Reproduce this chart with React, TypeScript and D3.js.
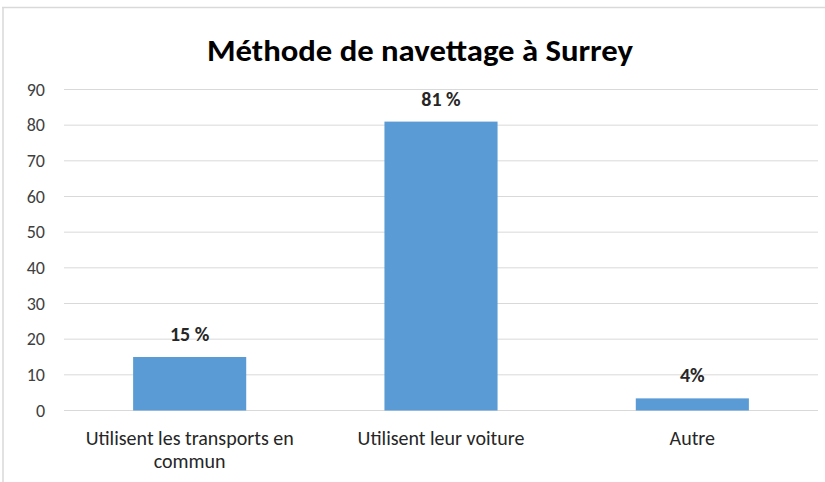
import React from "react";
import * as d3 from "d3";

const categories = ["Utilisent les transports en commun", "Utilisent leur voiture", "Autre"];
const categoryLines = [["Utilisent les transports en", "commun"], ["Utilisent leur voiture"], ["Autre"]];
const values = [15, 81, 3.4];
const valueLabels = ["15 %", "81 %", "4%"];
const yTicks = [0, 10, 20, 30, 40, 50, 60, 70, 80, 90];
const title = "Méthode de navettage à Surrey";

const W = 825;
const H = 482;
const plot = { left: 64, right: 818, top: 89.5, bottom: 410.5 };
const font = "Calibri, Carlito, 'Liberation Sans', Arial, sans-serif";

export default function App() {
  const x = d3.scaleBand<string>().domain(categories).range([plot.left, plot.right]).paddingInner(0.55).paddingOuter(0.275);
  const y = d3.scaleLinear().domain([0, 90]).range([plot.bottom, plot.top]);

  return (
    <svg width={W} height={H} style={{ position: "absolute", left: 0, top: 0, background: "#fff" }}>
      <rect x={0} y={0} width={W} height={H} fill="#fff" />
      <line x1={2} y1={7.5} x2={W} y2={7.5} stroke="#d9d9d9" strokeWidth={1.5} />
      <line x1={3} y1={7.5} x2={3} y2={H} stroke="#d9d9d9" strokeWidth={1.5} />
      <text x={420} y={61} textAnchor="middle" fontFamily={font} fontWeight="bold" fontSize={30} fill="#000"
        textLength={426} lengthAdjust="spacingAndGlyphs">{title}</text>
      {yTicks.map((t) => (
        <g key={t}>
          <line x1={plot.left} x2={plot.right} y1={y(t)} y2={y(t)} stroke="#d9d9d9" strokeWidth={1} />
          <text x={45} y={y(t)} dy="0.35em" textAnchor="end" fontFamily={font} fontSize={18} fill="#404040">{t}</text>
        </g>
      ))}
      {categories.map((c, i) => (
        <g key={c}>
          <rect x={x(c)!} y={y(values[i])} width={x.bandwidth()} height={y(0) - y(values[i])} fill="#5b9bd5" />
          <text x={x(c)! + x.bandwidth() / 2} y={y(values[i]) - 16} textAnchor="middle" fontFamily={font}
            fontWeight="bold" fontSize={20} fill="#262626">{valueLabels[i]}</text>
          {categoryLines[i].map((ln, j) => (
            <text key={j} x={x(c)! + x.bandwidth() / 2} y={445 + j * 23} textAnchor="middle" fontFamily={font}
              fontSize={20} fill="#262626">{ln}</text>
          ))}
        </g>
      ))}
    </svg>
  );
}
